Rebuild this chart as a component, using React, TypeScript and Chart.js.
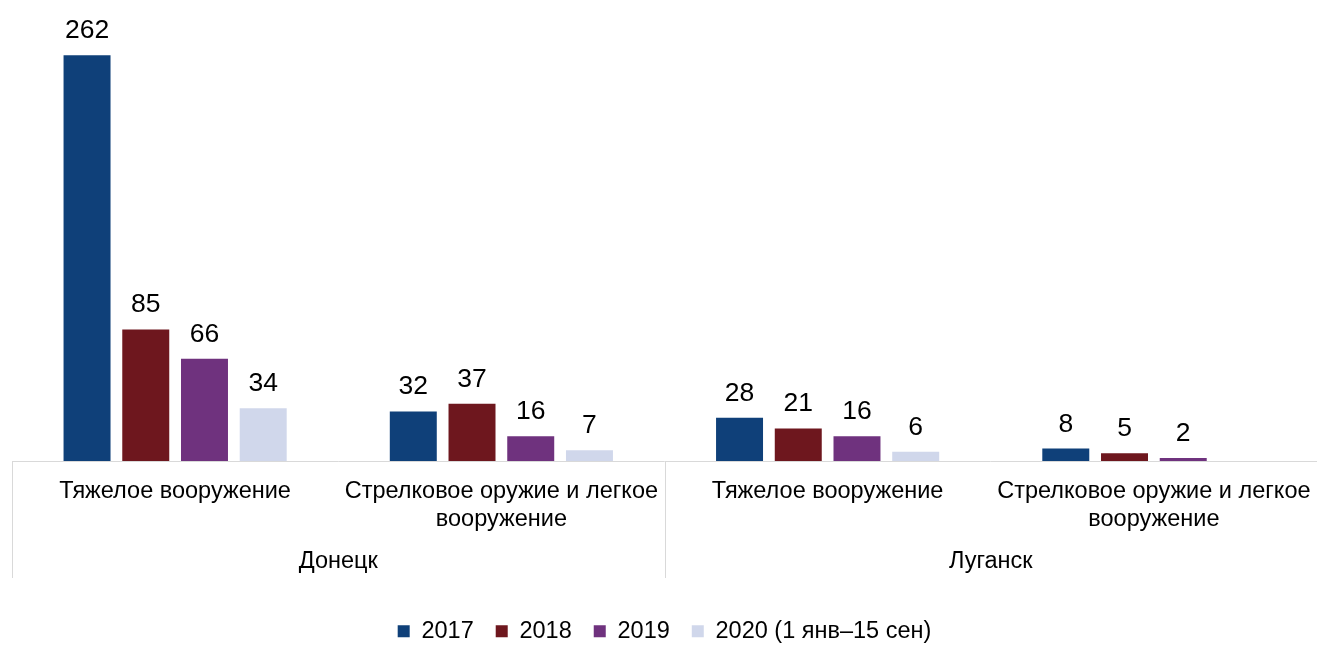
import React, { useEffect, useRef } from 'react';
import { Chart, registerables } from 'chart.js';

Chart.register(...registerables);

// ---- Data ----
const regions = ['Донецк', 'Луганск'];
const categoryLines: string[][] = [
  ['Тяжелое вооружение'],
  ['Стрелковое оружие и легкое', 'вооружение'],
  ['Тяжелое вооружение'],
  ['Стрелковое оружие и легкое', 'вооружение'],
];
const categoryRegion = [0, 0, 1, 1];
const seriesNames = ['2017', '2018', '2019', '2020 (1 янв–15 сен)'];
const values2017 = [262, 32, 28, 8];
const values2018 = [85, 37, 21, 5];
const values2019 = [66, 16, 16, 2];
const values2020: (number | null)[] = [34, 7, 6, null];
const seriesColors = ['#0f4079', '#6e171e', '#6f327e', '#d0d7eb'];

const FONT = '"Liberation Sans", Arial, sans-serif';
const GRID = '#d9d9d9';

const overlayPlugin = {
  id: 'overlay',
  beforeDatasetsDraw(chart: any) {
    const { ctx, chartArea } = chart;
    ctx.save();
    ctx.strokeStyle = GRID;
    ctx.lineWidth = 1;
    ctx.beginPath();
    ctx.moveTo(chartArea.left, chartArea.bottom + 0.5);
    ctx.lineTo(chartArea.right, chartArea.bottom + 0.5);
    ctx.stroke();
    ctx.restore();
  },
  afterDatasetsDraw(chart: any) {
    const { ctx, chartArea } = chart;
    const xs = chart.scales.x;
    ctx.save();
    // data labels
    ctx.font = `26.5px ${FONT}`;
    ctx.fillStyle = '#000';
    ctx.textAlign = 'center';
    ctx.textBaseline = 'alphabetic';
    chart.data.datasets.forEach((ds: any, i: number) => {
      const meta = chart.getDatasetMeta(i);
      meta.data.forEach((bar: any, j: number) => {
        const v = ds.data[j];
        if (v == null) return;
        ctx.fillText(String(v), bar.x, bar.y - 17);
      });
    });
    // category labels
    const base = chartArea.bottom;
    ctx.font = `23.5px ${FONT}`;
    categoryLines.forEach((lines, i) => {
      const cx = xs.getPixelForValue(i);
      lines.forEach((line, k) => {
        ctx.fillText(line, cx, base + 37 + k * 28);
      });
    });
    // region labels
    regions.forEach((r, ri) => {
      const idx = categoryRegion.map((c, i) => (c === ri ? i : -1)).filter((i) => i >= 0);
      const x0 = xs.getPixelForValue(idx[0]);
      const x1 = xs.getPixelForValue(idx[idx.length - 1]);
      ctx.fillText(r, (x0 + x1) / 2, base + 107);
    });
    // dividers
    ctx.strokeStyle = GRID;
    ctx.lineWidth = 1;
    const divs: number[] = [chartArea.left];
    for (let i = 1; i < categoryRegion.length; i++) {
      if (categoryRegion[i] !== categoryRegion[i - 1]) {
        divs.push((xs.getPixelForValue(i - 1) + xs.getPixelForValue(i)) / 2);
      }
    }
    divs.push(chartArea.right);
    ctx.beginPath();
    divs.forEach((d) => {
      const x = Math.round(d) + 0.5;
      ctx.moveTo(x, base);
      ctx.lineTo(x, base + 117);
    });
    ctx.stroke();
    ctx.restore();
  },
};

export default function App() {
  const ref = useRef<HTMLCanvasElement | null>(null);
  useEffect(() => {
    if (!ref.current) return;
    const series = [values2017, values2018, values2019, values2020];
    const chart = new Chart(ref.current, {
      type: 'bar',
      data: {
        labels: categoryLines.map((l) => l.join(' ')),
        datasets: series.map((data, i) => ({
          label: seriesNames[i],
          data: data as any,
          backgroundColor: seriesColors[i],
          borderWidth: 0,
          categoryPercentage: 0.72,
          barPercentage: 0.8,
        })),
      },
      options: {
        animation: false,
        responsive: false,
        devicePixelRatio: 1,
        layout: { padding: { left: 12, right: 0, top: 12, bottom: -8 } },
        scales: {
          x: {
            grid: { display: false },
            border: { display: false },
            ticks: { display: false },
            afterFit: (scale: any) => {
              scale.height = 136.5;
            },
          },
          y: {
            display: false,
            min: 0,
            max: 290,
          },
        },
        plugins: {
          legend: {
            position: 'bottom',
            labels: {
              boxWidth: 12,
              boxHeight: 12,
              padding: 22,
              color: '#000',
              font: { family: FONT, size: 23.5 },
            },
          },
          tooltip: { enabled: false },
        },
      },
      plugins: [overlayPlugin],
    });
    return () => chart.destroy();
  }, []);
  return (
    <div style={{ position: 'fixed', left: 0, top: 0, width: 1317, height: 645, background: '#fff' }}>
      <canvas ref={ref} width={1317} height={645} style={{ display: 'block' }} />
    </div>
  );
}
